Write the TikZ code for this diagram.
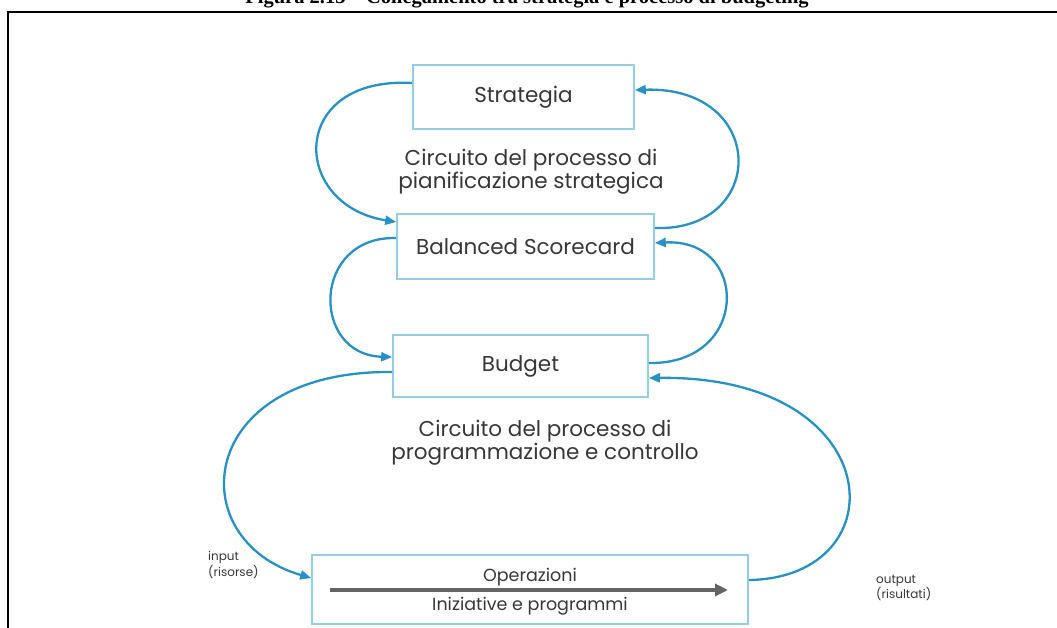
\documentclass[tikz,border=0pt]{standalone}
\usepackage{fontspec}
\setmainfont{Liberation Serif}
\newfontfamily\diagfont{Poppins}
\usetikzlibrary{arrows.meta}
\definecolor{boxblue}{RGB}{150,205,230}
\definecolor{arrblue}{RGB}{40,145,195}
\definecolor{txtgray}{RGB}{55,55,55}
\definecolor{flowgray}{RGB}{100,100,100}
\begin{document}
\begin{tikzpicture}[x=1pt,y=-1pt,
  stagebox/.style={draw=boxblue, line width=1.6pt, fill=white, inner sep=0pt,
    font=\diagfont\fontsize{21.5}{23}\selectfont, text=txtgray},
  loopline/.style={draw=arrblue, line width=2.3pt, -{Triangle[length=11pt,width=9pt]}},
  lbl/.style={font=\diagfont\fontsize{21.5}{23}\selectfont, text=txtgray, align=center},
  oplbl/.style={font=\diagfont\fontsize{17.5}{20}\selectfont, text=txtgray},
  sidelbl/.style={font=\diagfont\fontsize{12}{15.5}\selectfont, text=txtgray, align=left, inner sep=0pt},
]
\useasboundingbox (0,0) rectangle (1057,628);
\clip (0,0) rectangle (1057,628);

% caption above the frame
\node[anchor=base, font=\bfseries\fontsize{20.5}{22}\selectfont] (caption) at (527,3.5)
  {Figura 2.13 -- Collegamento tra strategia e processo di budgeting};

% frame
\draw[line width=2pt] (8,640) -- (8,12) -- (1070,12);

% stages
\node[stagebox, minimum width=221pt, minimum height=64pt] (strat) at (523.5,97) {Strategia};
\node[stagebox, minimum width=257pt, minimum height=65pt] (bsc) at (525.5,246.5) {Balanced Scorecard};
\node[stagebox, minimum width=255pt, minimum height=62pt] (budget) at (520.5,366) {Budget};
\node[stagebox, minimum width=436pt, minimum height=69pt] (ops) at (530,589.5) {};

% operations content
\node[oplbl] (opname) at (530,577) {Operazioni};
\node[oplbl] (opsub) at (530,606) {Iniziative e programmi};
\coordinate (flowA) at (330,590);
\coordinate (flowB) at (728,590);
\draw[draw=flowgray, line width=3.5pt, -{Triangle[length=13pt,width=12pt]}] (flowA) -- (flowB);

% circuit labels
\node[lbl] (circ1) at (531,171.5) {Circuito del processo di\\pianificazione strategica};
\node[lbl] (circ2) at (545,442.5) {Circuito del processo di\\programmazione e controllo};
\node[sidelbl, anchor=west] (inlbl) at (208,565) {input\\(risorse)};
\node[sidelbl, anchor=west] (outlbl) at (876,588) {output\\(risultati)};

% feedback loops
\draw[loopline] ([yshift=14pt]strat.west) .. controls (288,76) and (290,205) .. ([yshift=24.5pt]bsc.west);
\draw[loopline] ([yshift=18.5pt]bsc.east) .. controls (768,232) and (768,86) .. ([yshift=7pt]strat.east);
\draw[loopline] ([yshift=8.5pt]bsc.west) .. controls (311,236) and (311,355) .. ([yshift=9pt]budget.west);
\draw[loopline] ([yshift=3pt]budget.east) .. controls (750,365) and (750,238) .. ([yshift=3.5pt]bsc.east);
\draw[loopline] ([yshift=-6pt]budget.west) .. controls (195,370) and (180,540) .. ([yshift=11.5pt]ops.west);
\draw[loopline] ([yshift=9.5pt]ops.east) .. controls (900,578) and (890,375) .. ([yshift=-12pt]budget.east);
\end{tikzpicture}
\end{document}
